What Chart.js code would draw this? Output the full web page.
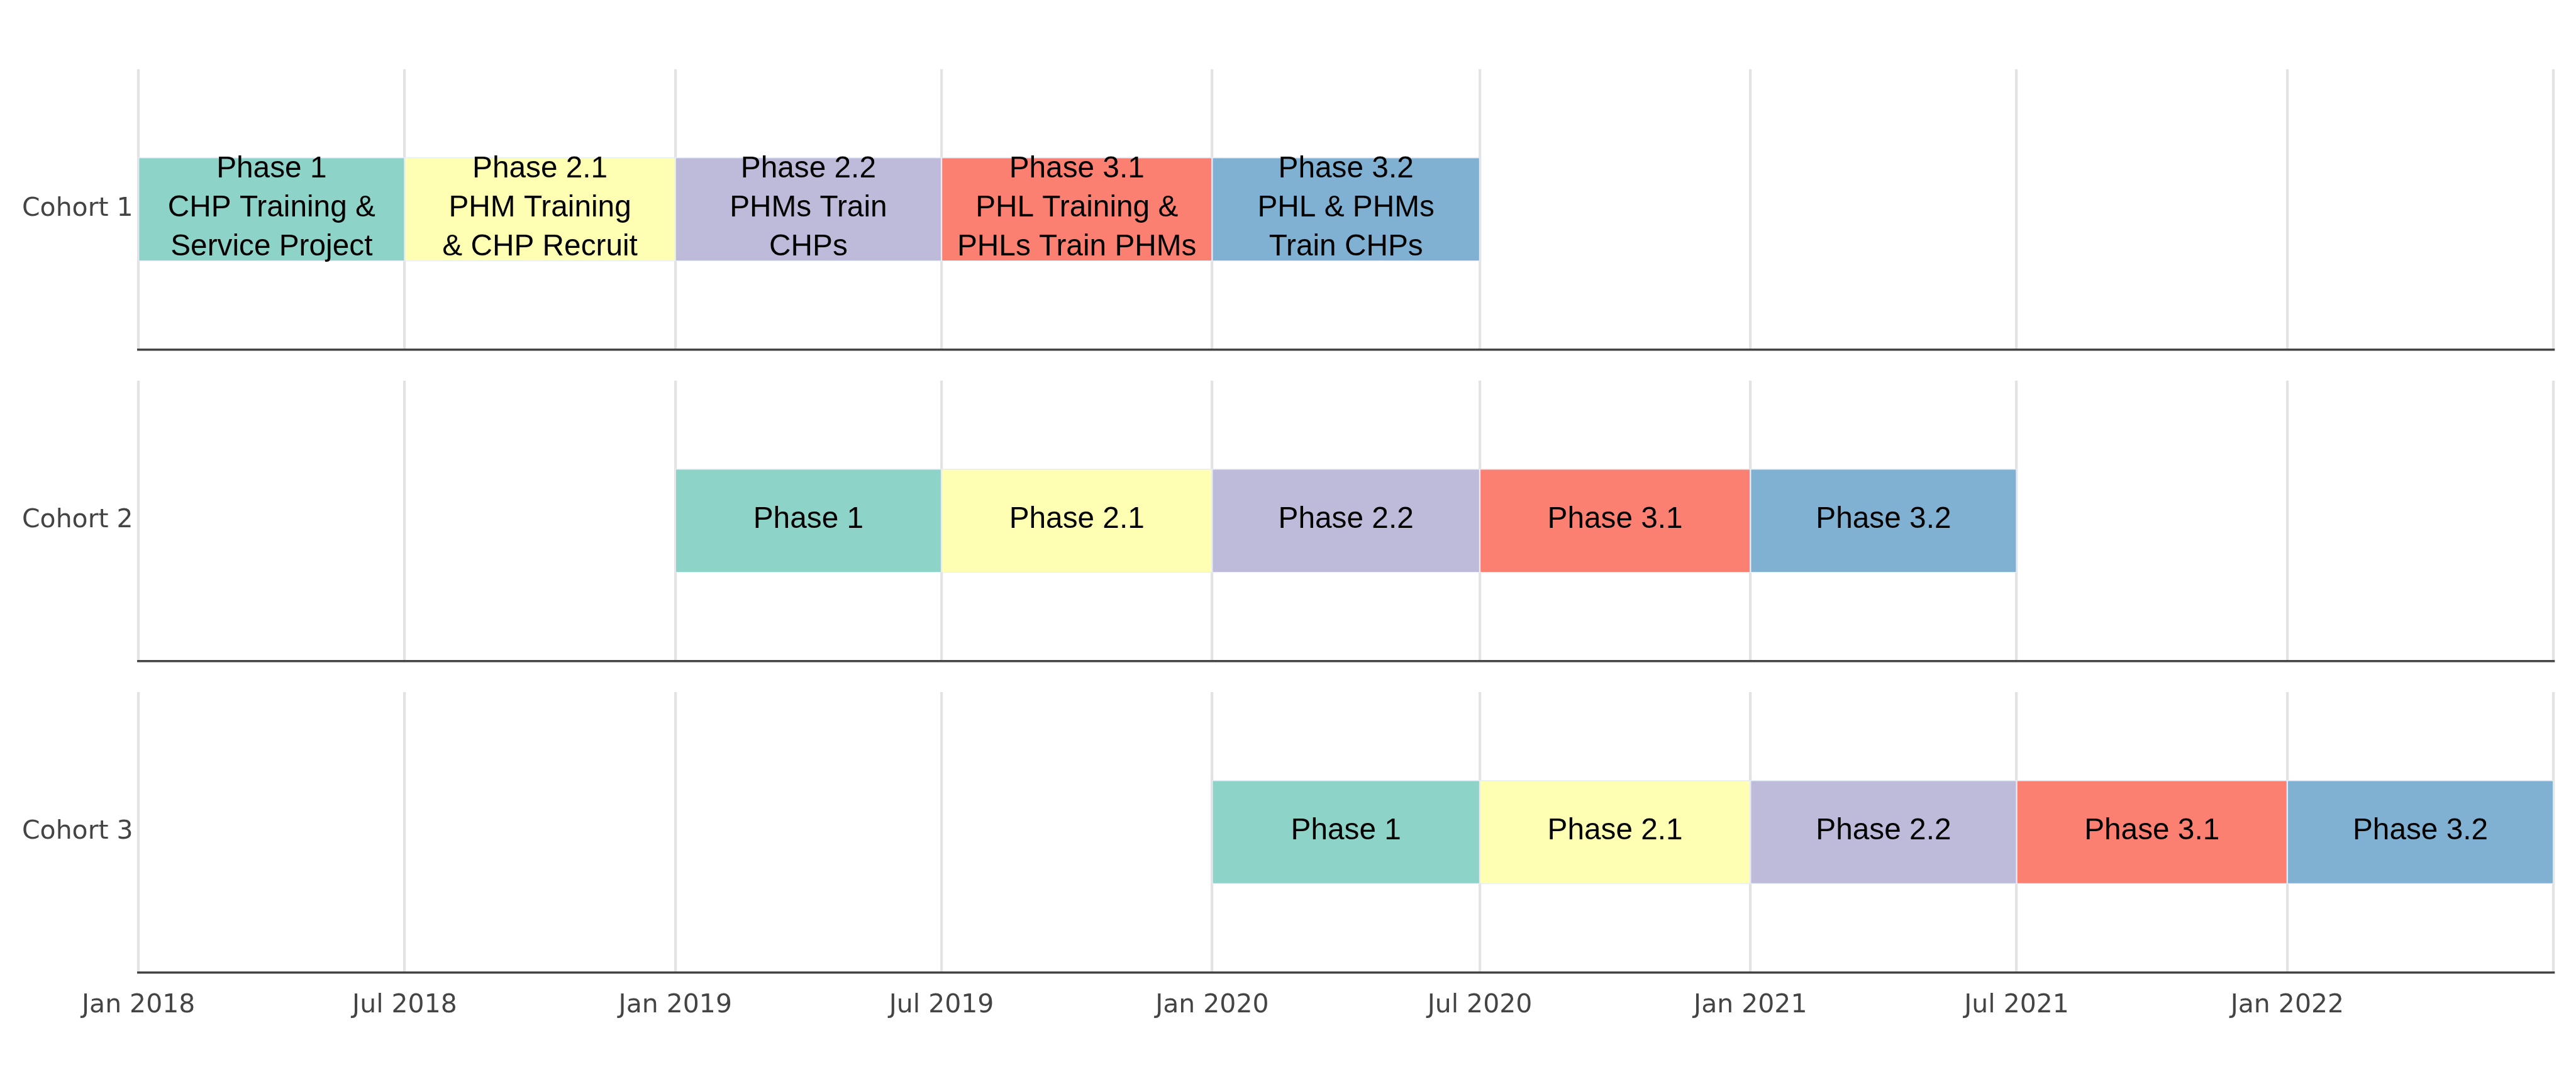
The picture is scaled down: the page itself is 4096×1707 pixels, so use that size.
<!DOCTYPE html>
<html>
<head>
<meta charset="utf-8">
<script src="https://cdn.jsdelivr.net/npm/chart.js@4.4.1/dist/chart.umd.min.js"></script>
<style>
html, body { margin: 0; padding: 0; background: #ffffff; }
#wrap { position: relative; width: 4096px; height: 1707px; overflow: hidden; background: #ffffff; }
#wrap canvas { position: absolute; left: 0; }
</style>
</head>
<body>
<div id="wrap">
  <canvas id="c1"></canvas>
  <canvas id="c2"></canvas>
  <canvas id="c3"></canvas>
</div>
<script>
// ---------------- DATA ----------------
const cohortNames = ['Cohort 1', 'Cohort 2', 'Cohort 3'];
const phaseNames = ['Phase 1', 'Phase 2.1', 'Phase 2.2', 'Phase 3.1', 'Phase 3.2'];

const cohort1Starts = ['2018-01-01', '2018-07-01', '2019-01-01', '2019-07-01', '2020-01-01'];
const cohort1Ends   = ['2018-07-01', '2019-01-01', '2019-07-01', '2020-01-01', '2020-07-01'];
const cohort1Text = [
  ['Phase 1', 'CHP Training &', 'Service Project'],
  ['Phase 2.1', 'PHM Training', '& CHP Recruit'],
  ['Phase 2.2', 'PHMs Train', 'CHPs'],
  ['Phase 3.1', 'PHL Training &', 'PHLs Train PHMs'],
  ['Phase 3.2', 'PHL & PHMs', 'Train CHPs']
];

const cohort2Starts = ['2019-01-01', '2019-07-01', '2020-01-01', '2020-07-01', '2021-01-01'];
const cohort2Ends   = ['2019-07-01', '2020-01-01', '2020-07-01', '2021-01-01', '2021-07-01'];
const cohort2Text = [['Phase 1'], ['Phase 2.1'], ['Phase 2.2'], ['Phase 3.1'], ['Phase 3.2']];

const cohort3Starts = ['2020-01-01', '2020-07-01', '2021-01-01', '2021-07-01', '2022-01-01'];
const cohort3Ends   = ['2020-07-01', '2021-01-01', '2021-07-01', '2022-01-01', '2022-07-01'];
const cohort3Text = [['Phase 1'], ['Phase 2.1'], ['Phase 2.2'], ['Phase 3.1'], ['Phase 3.2']];

const axisMin = '2018-01-01';
const axisMax = '2022-07-01';
const tickDates  = ['2018-01-01', '2018-07-01', '2019-01-01', '2019-07-01', '2020-01-01',
                    '2020-07-01', '2021-01-01', '2021-07-01', '2022-01-01', '2022-07-01'];
const tickLabels = ['Jan 2018', 'Jul 2018', 'Jan 2019', 'Jul 2019', 'Jan 2020',
                    'Jul 2020', 'Jan 2021', 'Jul 2021', 'Jan 2022', ''];

// ---------------- STYLE ----------------
const phaseColors = ['#8dd3c7', '#ffffb3', '#bebada', '#fb8072', '#80b1d3'];
const S = 4096 / 4800;
const W = 4096;
const PLOT_LEFT = 258 * S;
const PLOT_RIGHT = 4758 * S;
const PANEL_TOPS = [129 * S, 709 * S, 1289 * S];
const PANEL_H = 522 * S;
const BAR_T = 193 * S;
const TEXT_FS = 56 * S;
const TEXT_LH = 72.8 * S;
const TEXT_BASE_OFF = 13.5 * S;
const TICK_FS = 48 * S;
const TICK_FONT = '"DejaVu Sans", Verdana, sans-serif';
const GRID_W = 5 * S;
const AXIS_W = 4 * S;

const barTextPlugin = {
  id: 'barText',
  afterDatasetsDraw(chart) {
    const ctx = chart.ctx;
    ctx.save();
    ctx.font = TEXT_FS + 'px "Liberation Sans", Arial, sans-serif';
    ctx.fillStyle = '#000000';
    ctx.textAlign = 'center';
    ctx.textBaseline = 'alphabetic';
    chart.data.datasets.forEach((ds, i) => {
      const meta = chart.getDatasetMeta(i);
      meta.data.forEach((el) => {
        const p = el.getProps(['x', 'y', 'base'], true);
        const cx = (p.x + p.base) / 2;
        const lines = ds.barText;
        lines.forEach((ln, k) => {
          ctx.fillText(ln, cx, p.y + TEXT_BASE_OFF + (k - (lines.length - 1) / 2) * TEXT_LH);
        });
      });
    });
    ctx.restore();
  }
};

function makeChart(idx, canvasId, starts, ends, texts, showTicks) {
  const canvas = document.getElementById(canvasId);
  const top = Math.floor(PANEL_TOPS[idx]) - 10;
  const padTop = PANEL_TOPS[idx] - top;
  const canvasH = Math.round(padTop + PANEL_H + (showTicks ? 130 : 12));
  const xH = canvasH - padTop - PANEL_H;
  canvas.width = W;
  canvas.height = canvasH;
  canvas.style.width = W + 'px';
  canvas.style.height = canvasH + 'px';
  canvas.style.top = top + 'px';

  const datasets = phaseNames.map((name, i) => ({
    label: name,
    data: [[Date.parse(starts[i]), Date.parse(ends[i])]],
    barText: texts[i],
    backgroundColor: phaseColors[i],
    borderColor: 'rgba(229,236,246,0.9)',
    borderWidth: 1.5,
    borderSkipped: false,
    grouped: false,
    barThickness: BAR_T
  }));

  return new Chart(canvas, {
    type: 'bar',
    data: { labels: [cohortNames[idx]], datasets: datasets },
    plugins: [barTextPlugin],
    options: {
      indexAxis: 'y',
      responsive: false,
      animation: false,
      devicePixelRatio: 1,
      layout: { padding: { top: padTop, left: 0, right: W - PLOT_RIGHT, bottom: 0 } },
      plugins: { legend: { display: false }, tooltip: { enabled: false } },
      scales: {
        x: {
          type: 'linear',
          min: Date.parse(axisMin),
          max: Date.parse(axisMax),
          afterBuildTicks: (scale) => {
            scale.ticks = tickDates.map((d) => ({ value: Date.parse(d) }));
          },
          afterFit: (scale) => {
            scale.height = xH;
            scale.paddingLeft = 0;
            scale.paddingRight = 0;
          },
          grid: { display: true, color: '#e3e3e3', lineWidth: GRID_W, drawTicks: false },
          border: { display: true, color: '#444444', width: AXIS_W },
          ticks: {
            display: showTicks,
            autoSkip: false,
            maxRotation: 0,
            minRotation: 0,
            padding: 28,
            color: '#444444',
            font: { family: TICK_FONT, size: TICK_FS },
            callback: (value, index) => tickLabels[index]
          }
        },
        y: {
          type: 'category',
          afterFit: (scale) => {
            scale.width = PLOT_LEFT;
            scale.paddingTop = 0;
            scale.paddingBottom = 0;
          },
          grid: { display: false, drawTicks: false },
          border: { display: false },
          ticks: {
            padding: 10 * S,
            color: '#444444',
            font: { family: TICK_FONT, size: TICK_FS }
          }
        }
      }
    }
  });
}

makeChart(0, 'c1', cohort1Starts, cohort1Ends, cohort1Text, false);
makeChart(1, 'c2', cohort2Starts, cohort2Ends, cohort2Text, false);
makeChart(2, 'c3', cohort3Starts, cohort3Ends, cohort3Text, true);
</script>
</body>
</html>
